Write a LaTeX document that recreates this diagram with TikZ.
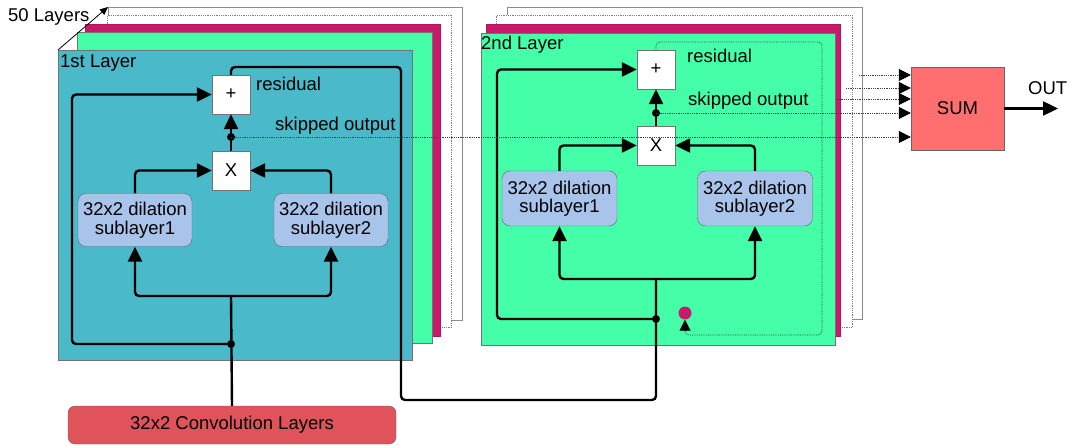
\documentclass[tikz,border=0pt]{standalone}
\usepackage{fontspec}
\setmainfont{Liberation Sans}
\usetikzlibrary{arrows.meta,calc}
\definecolor{tealsheet}{HTML}{4ABACB}
\definecolor{greensheet}{HTML}{44FFA8}
\definecolor{magsheet}{HTML}{C8196B}
\definecolor{subblue}{HTML}{A9C4EB}
\definecolor{convred}{HTML}{E0535A}
\definecolor{sumred}{HTML}{FF6F6F}
\begin{document}
\begin{tikzpicture}[x=1pt,y=-1pt,font=\fontsize{18.5}{18.5}\selectfont,
  sheet/.style={draw=black!55,line width=0.8pt,inner sep=0,anchor=north west,rectangle},
  dotsheet/.style={sheet,densely dotted,draw=black!50,fill=white},
  wire/.style={line width=2.4pt,rounded corners=4pt},
  arr/.style={-{Triangle[length=15pt,width=14pt]}},
  arrs/.style={-{Triangle[length=12pt,width=12pt,black]}},
  skipline/.style={densely dotted,line width=0.8pt,draw=black!75},
  opbox/.style={draw=black!55,fill=white,minimum width=38pt,minimum height=39pt,inner sep=0},
  subbox/.style={draw=black!60,fill=subblue,rounded corners=8pt,minimum width=114pt,
    minimum height=53pt,align=center,inner sep=0},
  jdot/.style={circle,fill=black,inner sep=0,minimum size=8pt},
  lbl/.style={inner sep=0,anchor=base west}]
\useasboundingbox (0,0) rectangle (1078,446);

% ---- stack of layers, first block ----
\node[sheet,fill=white,draw=black!45,line width=1.2pt,minimum width=354pt,minimum height=313pt] (L1e) at (108,7) {};
\node[dotsheet,minimum width=344pt,minimum height=312pt] (L1d) at (107,15) {};
\node[sheet,fill=magsheet,draw=magsheet!85!black,minimum width=355pt,minimum height=312pt] (L1c) at (85,24) {};
\node[sheet,fill=greensheet,minimum width=355pt,minimum height=311pt] (L1b) at (77,32) {};
\node[sheet,fill=tealsheet,minimum width=354pt,minimum height=310pt] (L1a) at (58,50) {};

% ---- stack of layers, second block ----
\node[sheet,fill=white,draw=black!45,line width=1.2pt,minimum width=355pt,minimum height=312pt] (L2d) at (507,7) {};
\node[dotsheet,minimum width=356pt,minimum height=312pt] (L2c) at (496,15) {};
\node[sheet,fill=magsheet,draw=magsheet!85!black,minimum width=354pt,minimum height=312pt] (L2b) at (486,24) {};
\node[sheet,fill=greensheet,minimum width=354pt,minimum height=312pt] (L2a) at (481,33) {};

% ---- labels ----
\node[lbl] (t50) at (8,21.5) {50 Layers};
\draw[line width=0.8pt,-{Triangle[length=8pt,width=7pt]}] (L1a.north west) -- (L1e.north west);
\node[lbl] (t1st) at (60,68) {1st Layer};
\node[lbl] (tres1) at (256,91) {residual};
\node[lbl] (tskip1) at (275,131) {skipped output};
\node[lbl] (t2nd) at (481,50) {2nd Layer};
\node[lbl] (tres2) at (687,63) {residual};
\node[lbl] (tskip2) at (688,106) {skipped output};

% ---- input block ----
\node[draw=black!60,fill=convred,rounded corners=7pt,minimum width=328pt,minimum height=38pt,inner sep=0] (conv) at (232,425) {32x2 Convolution Layers};

% ---- first layer ----
\node[opbox] (plus1) at (231,94.5) {+};
\node[opbox] (mult1) at (231,170.5) {X};
\node[subbox] (sub1a) at (135,220) {32x2 dilation\\sublayer1};
\node[subbox] (sub1b) at (331,220) {32x2 dilation\\sublayer2};
\coordinate (split1) at (231,296);
\node[jdot] (res1) at (231,344) {};
\node[jdot] (skip1) at (231,137) {};

\draw[wire,arr] (mult1.north) -- (plus1.south);
\draw[wire,arr] (sub1a.north) |- (mult1.west);
\draw[wire,arr] (sub1b.north) |- (mult1.east);
\draw[wire,arr] (split1) -| (sub1a.south);
\draw[wire,arr] (split1) -| (sub1b.south);
\draw[wire] (conv.north) -- (split1);
\draw[wire,arr] (res1.center) -- (72,344) |- (plus1.west);

% ---- second layer ----
\node[opbox] (plus2) at (656,69.5) {+};
\node[opbox] (mult2) at (656,145.5) {X};
\node[subbox,minimum width=115pt,minimum height=55pt] (sub2a) at (559.5,198.5) {32x2 dilation\\sublayer1};
\node[subbox,minimum width=115pt,minimum height=55pt] (sub2b) at (755,198.5) {32x2 dilation\\sublayer2};
\coordinate (split2) at (656,279);
\node[jdot] (res2) at (656,319) {};
\node[jdot] (skip2) at (656,113) {};
\node[circle,fill=magsheet,inner sep=0,minimum size=13pt] (next) at (685,313) {};

% residual of the first layer feeds the second
\draw[wire] (plus1.north) |- (401,67) -- (401,400) -| (split2);

\draw[wire,arr] (mult2.north) -- (plus2.south);
\draw[wire,arr] (sub2a.north) |- (mult2.west);
\draw[wire,arr] (sub2b.north) |- (mult2.east);
\draw[wire,arr] (split2) -| (sub2a.south);
\draw[wire,arr] (split2) -| (sub2b.south);
\draw[wire,arr] (res2.center) -- (497,319) |- (plus2.west);
\draw[skipline,rounded corners=4pt,-{Triangle[length=11pt,width=11pt,black]}]
  (plus2.north) |- (822,42) -- (822,335) -| (next.south);

% ---- sum of skipped outputs ----
\node[draw=black!60,fill=sumred,minimum width=93pt,minimum height=83pt,inner sep=0] (sum) at (957.5,108.5) {SUM};
\coordinate (k3) at (837,99);
\coordinate (k4) at (846,88);
\coordinate (k5) at (859,75);
\draw[skipline,arrs] (skip1.center) -- (skip1.center -| sum.west);
\draw[skipline,arrs] (skip2.center) -- (skip2.center -| sum.west);
\draw[skipline,arrs] (k3) -- (k3 -| sum.west);
\draw[skipline,arrs] (k4) -- (k4 -| sum.west);
\draw[skipline,arrs] (k5) -- (k5 -| sum.west);

\coordinate (out) at (1058,108.5);
\draw[wire,arr] (sum.east) -- (out);
\node[lbl] (tout) at (1028,95) {OUT};
\end{tikzpicture}
\end{document}
